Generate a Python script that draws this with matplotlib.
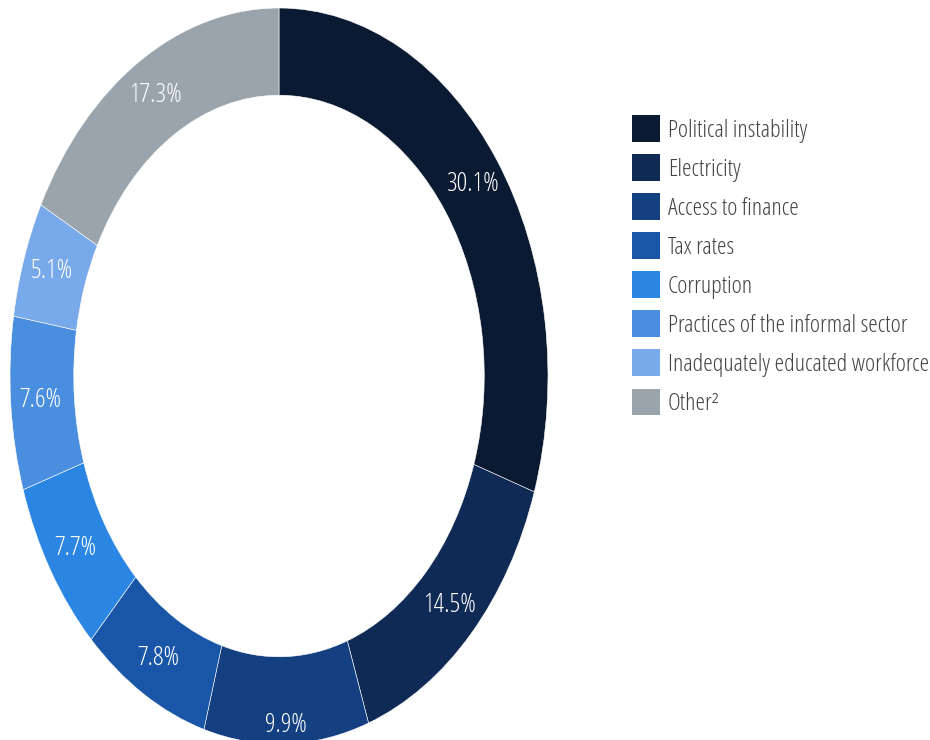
import matplotlib.pyplot as plt
from matplotlib.patches import Patch

plt.rcParams["font.family"] = ["Open Sans", "DejaVu Sans"]
plt.rcParams["font.stretch"] = "condensed"
plt.rcParams["font.weight"] = "light"

LABELS = [
    "Political instability",
    "Electricity",
    "Access to finance",
    "Tax rates",
    "Corruption",
    "Practices of the informal sector",
    "Inadequately educated workforce",
    "Other²",
]
SHARES = [30.1, 14.5, 9.9, 7.8, 7.7, 7.6, 5.1, 17.3]
COLORS = [
    "#0b1a33",  # near black navy
    "#0e2a55",  # dark navy
    "#143f80",  # navy
    "#1a56a8",  # mid blue
    "#2b86e3",  # bright blue
    "#4a8ee0",  # blue
    "#78a9eb",  # light blue
    "#9aa4ad",  # grey
]

fig = plt.figure(figsize=(9.3, 7.4), dpi=100)

# donut is stretched vertically and runs a little past the bottom edge
ax = fig.add_axes([10 / 930, -4 / 740, 538 / 930, 736 / 740])
wedges, texts, pct_texts = ax.pie(
    SHARES,
    colors=COLORS,
    startangle=90,
    counterclock=False,
    autopct="%.1f%%",
    pctdistance=0.89,
    radius=1.0,
    wedgeprops=dict(width=0.237, edgecolor="white", linewidth=0.4),
    textprops=dict(color="white", fontsize=19),
)
# bottom label sits a bit lower in the reference
x, y = pct_texts[2].get_position()
pct_texts[2].set_position((x, y - 0.06))

ax.set_aspect("auto")
ax.set_xlim(-1, 1)
ax.set_ylim(-1, 1)
ax.axis("off")

handles = [Patch(facecolor=c, edgecolor="none") for c in COLORS]
fig.legend(
    handles,
    LABELS,
    loc="upper left",
    bbox_to_anchor=(632 / 930, 1 - 115 / 740),
    frameon=False,
    fontsize=17.5,
    handlelength=1.15,
    handleheight=1.32,
    handletextpad=0.33,
    labelspacing=0.475,
    borderpad=0,
    borderaxespad=0,
    labelcolor="#444444",
)

fig.savefig("out.png", dpi=100)
